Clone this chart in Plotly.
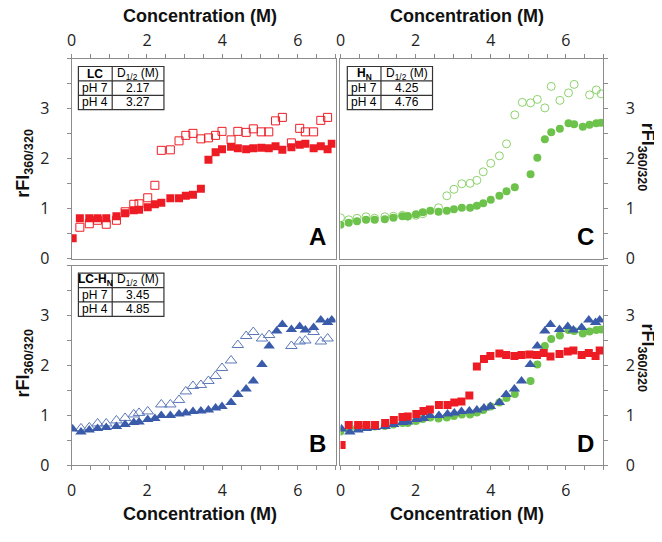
import plotly.graph_objects as go

# ---------------- data ----------------
# Panel A (LC): filled squares = pH 4, open squares = pH 7
lc_ph4_x = [0.03, 0.22, 0.47, 0.69, 0.92, 1.19, 1.42, 1.65, 1.79, 2.02, 2.21, 2.38, 2.62, 2.85, 3.03, 3.22, 3.43,
            3.63, 3.82, 3.99, 4.23, 4.41, 4.63, 4.82, 5.03, 5.23, 5.41, 5.59, 5.83, 6.05, 6.20, 6.42, 6.61, 6.79, 6.90]
lc_ph4_y = [0.41, 0.81, 0.81, 0.81, 0.81, 0.85, 0.91, 0.97, 0.98, 1.03, 1.09, 1.12, 1.21, 1.21, 1.26, 1.28, 1.40,
            1.98, 2.13, 2.19, 2.24, 2.21, 2.19, 2.21, 2.22, 2.21, 2.25, 2.18, 2.23, 2.28, 2.30, 2.21, 2.25, 2.19, 2.30]
lc_ph7_x = [0.22, 0.47, 0.69, 0.92, 1.19, 1.42, 1.65, 1.79, 2.02, 2.21, 2.38, 2.62, 2.85, 3.03, 3.22, 3.43, 3.63,
            3.82, 3.99, 4.23, 4.41, 4.63, 4.82, 5.03, 5.23, 5.41, 5.59, 5.83, 6.05, 6.20, 6.42, 6.61, 6.79]
lc_ph7_y = [0.63, 0.70, 0.77, 0.69, 0.77, 0.94, 1.09, 1.10, 1.22, 1.47, 2.17, 2.18, 2.36, 2.47, 2.51, 2.40, 2.42,
            2.47, 2.55, 2.38, 2.55, 2.53, 2.60, 2.54, 2.54, 2.76, 2.83, 2.32, 2.61, 2.54, 2.54, 2.77, 2.83]

# Panel C (H_N): filled circles = pH 4, open circles = pH 7
hn_ph4_x = [0.0, 0.22, 0.44, 0.68, 0.91, 1.18, 1.41, 1.65, 1.79, 2.01, 2.19, 2.39, 2.61, 2.83, 3.02, 3.23, 3.45,
            3.63, 3.80, 4.00, 4.23, 4.42, 4.64, 5.06, 5.24, 5.44, 5.61, 5.84, 6.07, 6.22, 6.45, 6.63, 6.81, 6.94]
hn_ph4_y = [0.68, 0.72, 0.75, 0.78, 0.78, 0.79, 0.82, 0.85, 0.85, 0.89, 0.93, 0.96, 0.94, 0.96, 0.99, 1.02, 1.02,
            1.06, 1.11, 1.18, 1.26, 1.35, 1.43, 1.69, 2.02, 2.39, 2.53, 2.60, 2.71, 2.69, 2.64, 2.68, 2.71, 2.72]
hn_ph7_x = [0.0, 0.22, 0.44, 0.68, 0.91, 1.18, 1.41, 1.65, 1.79, 2.01, 2.19, 2.61, 2.83, 3.02, 3.23, 3.45, 3.63,
            3.80, 4.00, 4.23, 4.42, 4.64, 4.84, 5.06, 5.24, 5.44, 5.61, 5.84, 6.07, 6.22, 6.63, 6.81, 6.94]
hn_ph7_y = [0.82, 0.78, 0.81, 0.84, 0.81, 0.84, 0.85, 0.87, 0.85, 0.87, 0.90, 1.02, 1.26, 1.39, 1.50, 1.51, 1.57,
            1.74, 1.91, 2.06, 2.30, 2.88, 3.13, 3.12, 3.19, 3.02, 3.45, 3.17, 3.32, 3.49, 3.28, 3.38, 3.30]

# Panel B (LC-H_N): filled triangles = pH 4, open triangles = pH 7
lchn_ph4_x = [0.03, 0.25, 0.47, 0.69, 0.92, 1.19, 1.42, 1.65, 1.79, 2.02, 2.21, 2.38, 2.62, 2.85, 3.03, 3.22, 3.43,
              3.63, 3.82, 3.99, 4.23, 4.41, 4.63, 4.82, 5.05, 5.24, 5.44, 5.59, 5.83, 6.05, 6.20, 6.42, 6.61, 6.79, 6.90]
lchn_ph4_y = [0.73, 0.67, 0.71, 0.74, 0.76, 0.78, 0.82, 0.86, 0.87, 0.92, 0.94, 1.00, 1.00, 1.03, 1.05, 1.08, 1.09,
              1.11, 1.15, 1.18, 1.26, 1.42, 1.53, 1.69, 2.02, 2.39, 2.69, 2.82, 2.72, 2.78, 2.71, 2.76, 2.91, 2.86, 2.91]
lchn_ph7_x = [0.25, 0.47, 0.69, 0.92, 1.19, 1.42, 1.65, 1.79, 2.02, 2.38, 2.62, 2.85, 3.03, 3.22, 3.43, 3.63, 3.82,
              3.99, 4.23, 4.41, 4.63, 4.82, 5.05, 5.24, 5.83, 6.05, 6.20, 6.42, 6.61, 6.79]
lchn_ph7_y = [0.74, 0.76, 0.84, 0.84, 0.90, 0.95, 1.02, 1.05, 1.08, 1.22, 1.22, 1.31, 1.48, 1.59, 1.61, 1.69, 1.79,
              1.95, 2.10, 2.41, 2.59, 2.67, 2.54, 2.61, 2.39, 2.48, 2.50, 2.67, 2.48, 2.54]

# inset tables
table_a = [["<b>LC</b>", "D<sub>1/2</sub> (M)"], ["pH 7", "2.17"], ["pH 4", "3.27"]]
table_c = [["<b>H<sub>N</sub></b>", "D<sub>1/2</sub> (M)"], ["pH 7", "4.25"], ["pH 4", "4.76"]]
table_b = [["<b>LC-H<sub>N</sub></b>", "D<sub>1/2</sub> (M)"], ["pH 7", "3.45"], ["pH 4", "4.85"]]

x_tick_vals = [0, 2, 4, 6]
y_tick_vals = [0, 1, 2, 3]
x_title = "Concentration (M)"
y_title = "<b>rFI</b><sub><b>360/320</b></sub>"
panel_letters = ["A", "C", "B", "D"]

# ---------------- styles ----------------
RED = "#ED1C24"
GREEN = "#6CC24A"
GREEN_OPEN = "#8DD26B"
BLUE = "#3A5BA9"
BLUE_OPEN = "#5C78BA"
GRID = "#8C8C8C"
TICKFONT = dict(family="Open Sans, Lato, sans-serif", size=16, color="#222")
TITLEFONT = dict(family="Liberation Sans Narrow, Arial Narrow, Liberation Sans, sans-serif", size=18, color="#111")

# the page body has an 8px margin; the figure fills the rest of the 662x542 window
OFF = 8
W, H = 662 - OFF, 542 - OFF

def px(x):
    return (x - OFF) / W

def py(y):
    return 1 - (y - OFF) / H

colA = [px(67), px(333)]
colC = [px(338), px(603)]
rowTop = [py(264), py(60)]
rowBot = [py(475), py(271)]

fig = go.Figure()

def sq_filled(x, y, ax, name):
    return go.Scatter(x=x, y=y, mode="markers", name=name, xaxis=ax[0], yaxis=ax[1],
                      marker=dict(symbol="square", size=8, color=RED, line=dict(width=0)))

def tri_filled(x, y, ax, name):
    return go.Scatter(x=x, y=y, mode="markers", name=name, xaxis=ax[0], yaxis=ax[1],
                      marker=dict(symbol="triangle-up", size=10, color=BLUE, line=dict(width=0)))

def circ_filled(x, y, ax, name):
    return go.Scatter(x=x, y=y, mode="markers", name=name, xaxis=ax[0], yaxis=ax[1],
                      marker=dict(symbol="circle", size=8, color=GREEN, line=dict(width=0)))

# Panel A
fig.add_trace(go.Scatter(x=lc_ph7_x, y=lc_ph7_y, mode="markers", name="LC pH 7", xaxis="x", yaxis="y",
                         marker=dict(symbol="square-open", size=8, color=RED, line=dict(width=1))))
fig.add_trace(sq_filled(lc_ph4_x, lc_ph4_y, ("x", "y"), "LC pH 4"))
# Panel C
fig.add_trace(go.Scatter(x=hn_ph7_x, y=hn_ph7_y, mode="markers", name="HN pH 7", xaxis="x2", yaxis="y2",
                         marker=dict(symbol="circle-open", size=8, color=GREEN_OPEN, line=dict(width=1))))
fig.add_trace(circ_filled(hn_ph4_x, hn_ph4_y, ("x2", "y2"), "HN pH 4"))
# Panel B
fig.add_trace(go.Scatter(x=lchn_ph7_x, y=lchn_ph7_y, mode="markers", name="LC-HN pH 7", xaxis="x3", yaxis="y3",
                         marker=dict(symbol="triangle-up-open", size=10, color=BLUE_OPEN, line=dict(width=1))))
fig.add_trace(tri_filled(lchn_ph4_x, lchn_ph4_y, ("x3", "y3"), "LC-HN pH 4"))
# Panel D
fig.add_trace(circ_filled(hn_ph4_x, hn_ph4_y, ("x4", "y4"), "HN pH 4"))
fig.add_trace(tri_filled(lchn_ph4_x, lchn_ph4_y, ("x4", "y4"), "LC-HN pH 4"))
fig.add_trace(sq_filled(lc_ph4_x, lc_ph4_y, ("x4", "y4"), "LC pH 4"))

def xax(domain, anchor, side):
    return dict(domain=domain, anchor=anchor, side=side, range=[0, 7], tickvals=x_tick_vals,
                ticks="outside", ticklen=4, tickcolor=GRID, showline=True, linecolor=GRID, linewidth=1,
                mirror=True, showgrid=False, zeroline=False, tickfont=TICKFONT,
                ticklabelstandoff=2 if side == "top" else 6,
                minor=dict(dtick=0.5, ticks="outside", ticklen=4, tickcolor=GRID, showgrid=False))

def yax(domain, anchor, side):
    return dict(domain=domain, anchor=anchor, side=side, range=[0, 4], tickvals=y_tick_vals,
                ticks="outside", ticklen=4, tickcolor=GRID, showline=True, linecolor=GRID, linewidth=1,
                mirror=True, showgrid=False, zeroline=False, tickfont=TICKFONT, ticklabelstandoff=14,
                minor=dict(dtick=0.5, ticks="outside", ticklen=4, tickcolor=GRID, showgrid=False))

fig.update_layout(
    width=W, height=H, margin=dict(l=0, r=0, t=0, b=0),
    paper_bgcolor="white", plot_bgcolor="white", showlegend=False,
    xaxis=xax(colA, "y", "top"), yaxis=yax(rowTop, "x", "left"),
    xaxis2=xax(colC, "y2", "top"), yaxis2=yax(rowTop, "x2", "right"),
    xaxis3=xax(colA, "y3", "bottom"), yaxis3=yax(rowBot, "x3", "left"),
    xaxis4=xax(colC, "y4", "bottom"), yaxis4=yax(rowBot, "x4", "right"),
)

annotations = []
shapes = []

# axis titles
for xc, yc in [(196, 16), (466, 16), (196, 525), (466, 525)]:
    annotations.append(dict(text="<b>" + x_title + "</b>", x=px(xc), y=py(yc), xref="paper", yref="paper",
                            showarrow=False, font=TITLEFONT, xanchor="center", yanchor="middle"))
for xc, yc, ang in [(20, 166, -90), (20, 370, -90), (646, 160, 90), (646, 365, 90)]:
    annotations.append(dict(text=y_title, x=px(xc), y=py(yc), xref="paper", yref="paper", textangle=ang,
                            showarrow=False, font=dict(family="Liberation Sans, Arial, sans-serif", size=18, color="#111"),
                            xanchor="center", yanchor="middle"))

# panel letters
for letter, ax in zip(panel_letters, ["", "2", "3", "4"]):
    annotations.append(dict(text="<b>" + letter + "</b>", x=0.93, y=0.11, xref="x%s domain" % ax,
                            yref="y%s domain" % ax, showarrow=False, xanchor="center", yanchor="middle",
                            font=dict(family="Liberation Sans, Arial, sans-serif", size=24, color="black")))

# inset tables
def add_table(rows, ax):
    xr, yr = "x%s domain" % ax, "y%s domain" % ax
    x0, xs, x1 = 0.026, 0.154, 0.35
    ytop, rh = 0.962, 0.072
    nrow = len(rows)
    shapes.append(dict(type="rect", xref=xr, yref=yr, x0=x0, x1=x1, y0=ytop - nrow * rh, y1=ytop,
                       line=dict(color="#333", width=1.2), fillcolor="white", layer="above"))
    shapes.append(dict(type="line", xref=xr, yref=yr, x0=xs, x1=xs, y0=ytop - nrow * rh, y1=ytop,
                       line=dict(color="#333", width=1.2)))
    for i in range(1, nrow):
        shapes.append(dict(type="line", xref=xr, yref=yr, x0=x0, x1=x1, y0=ytop - i * rh, y1=ytop - i * rh,
                           line=dict(color="#333", width=1.2)))
    for i, (c1, c2) in enumerate(rows):
        yc = ytop - (i + 0.5) * rh
        for txt, xc in [(c1, (x0 + xs) / 2), (c2, (xs + x1) / 2)]:
            annotations.append(dict(text=txt, x=xc, y=yc, xref=xr, yref=yr, showarrow=False,
                                    xanchor="center", yanchor="middle",
                                    font=dict(family="Liberation Sans, Arial, sans-serif", size=12, color="black")))

add_table(table_a, "")
add_table(table_c, "2")
add_table(table_b, "3")

fig.update_layout(annotations=annotations, shapes=shapes)
fig.write_html("out.html")
